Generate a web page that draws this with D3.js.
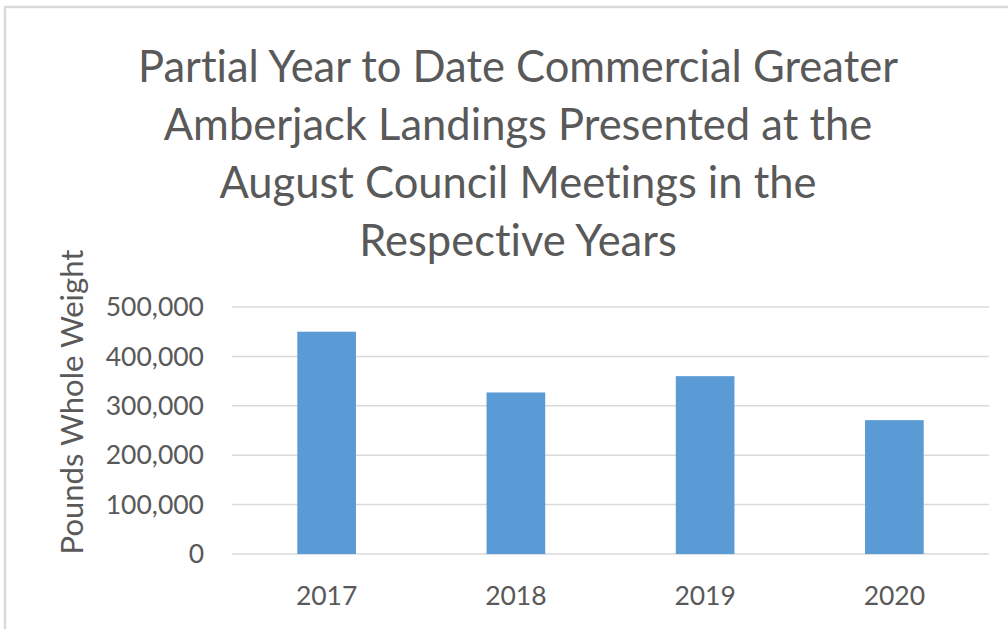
<!DOCTYPE html>
<html>
<head>
<meta charset="utf-8">
<script src="https://cdn.jsdelivr.net/npm/d3@7"></script>
<style>
  body { margin: 0; background: #fff; }
  svg { display: block; font-family: Lato, "Open Sans", sans-serif; font-variant-ligatures: none; }
</style>
</head>
<body>
<div id="chart"></div>
<script>
// data
const years = ["2017", "2018", "2019", "2020"];
const landings = [450000, 327000, 360000, 271000];
const yTicks = [0, 100000, 200000, 300000, 400000, 500000];
const titleLines = [
  "Partial Year to Date Commercial Greater",
  "Amberjack Landings Presented at the",
  "August Council Meetings in the",
  "Respective Years"
];

const width = 1008, height = 629;
const margin = {top: 307, right: 19, bottom: 75, left: 232};

const svg = d3.select("#chart").append("svg")
    .attr("width", width)
    .attr("height", height);

// chart frame
svg.append("rect")
    .attr("x", 5).attr("y", 7)
    .attr("width", width + 20).attr("height", height + 20)
    .attr("fill", "#fff")
    .attr("stroke", "#d9d9d9")
    .attr("stroke-width", 2.5);

const x = d3.scaleBand()
    .domain(years)
    .range([margin.left, width - margin.right])
    .paddingInner(0.69)
    .paddingOuter(0.345);

const y = d3.scaleLinear()
    .domain([0, 500000])
    .range([height - margin.bottom, margin.top]);

// gridlines
svg.append("g")
  .selectAll("line")
  .data(yTicks)
  .join("line")
    .attr("x1", margin.left)
    .attr("x2", width - margin.right)
    .attr("y1", d => y(d))
    .attr("y2", d => y(d))
    .attr("stroke", "#d9d9d9")
    .attr("stroke-width", 1.5);

// y tick labels
svg.append("g")
  .selectAll("text")
  .data(yTicks)
  .join("text")
    .attr("x", 204)
    .attr("y", d => y(d))
    .attr("dy", "0.35em")
    .attr("text-anchor", "end")
    .attr("fill", "#595959")
    .attr("font-size", 26.5)
    .text(d => d3.format(",")(d));

// bars
svg.append("g")
  .selectAll("rect")
  .data(landings)
  .join("rect")
    .attr("x", (d, i) => x(years[i]))
    .attr("y", d => y(d))
    .attr("width", x.bandwidth())
    .attr("height", d => y(0) - y(d))
    .attr("fill", "#5b9bd5");

// x labels
svg.append("g")
  .selectAll("text")
  .data(years)
  .join("text")
    .attr("x", d => x(d) + x.bandwidth() / 2)
    .attr("y", 596)
    .attr("dy", "0.35em")
    .attr("text-anchor", "middle")
    .attr("fill", "#595959")
    .attr("font-size", 26.5)
    .text(d => d);

// y axis title
svg.append("text")
    .attr("transform", "translate(72,402) rotate(-90)")
    .attr("dy", "0.35em")
    .attr("text-anchor", "middle")
    .attr("fill", "#595959")
    .attr("font-size", 31)
    .text("Pounds Whole Weight");

// title
svg.append("g")
  .selectAll("text")
  .data(titleLines)
  .join("text")
    .attr("x", 518)
    .attr("y", (d, i) => 67 + i * 58)
    .attr("dy", "0.35em")
    .attr("text-anchor", "middle")
    .attr("fill", "#595959")
    .attr("font-size", 43.5)
    .text(d => d);
</script>
</body>
</html>
